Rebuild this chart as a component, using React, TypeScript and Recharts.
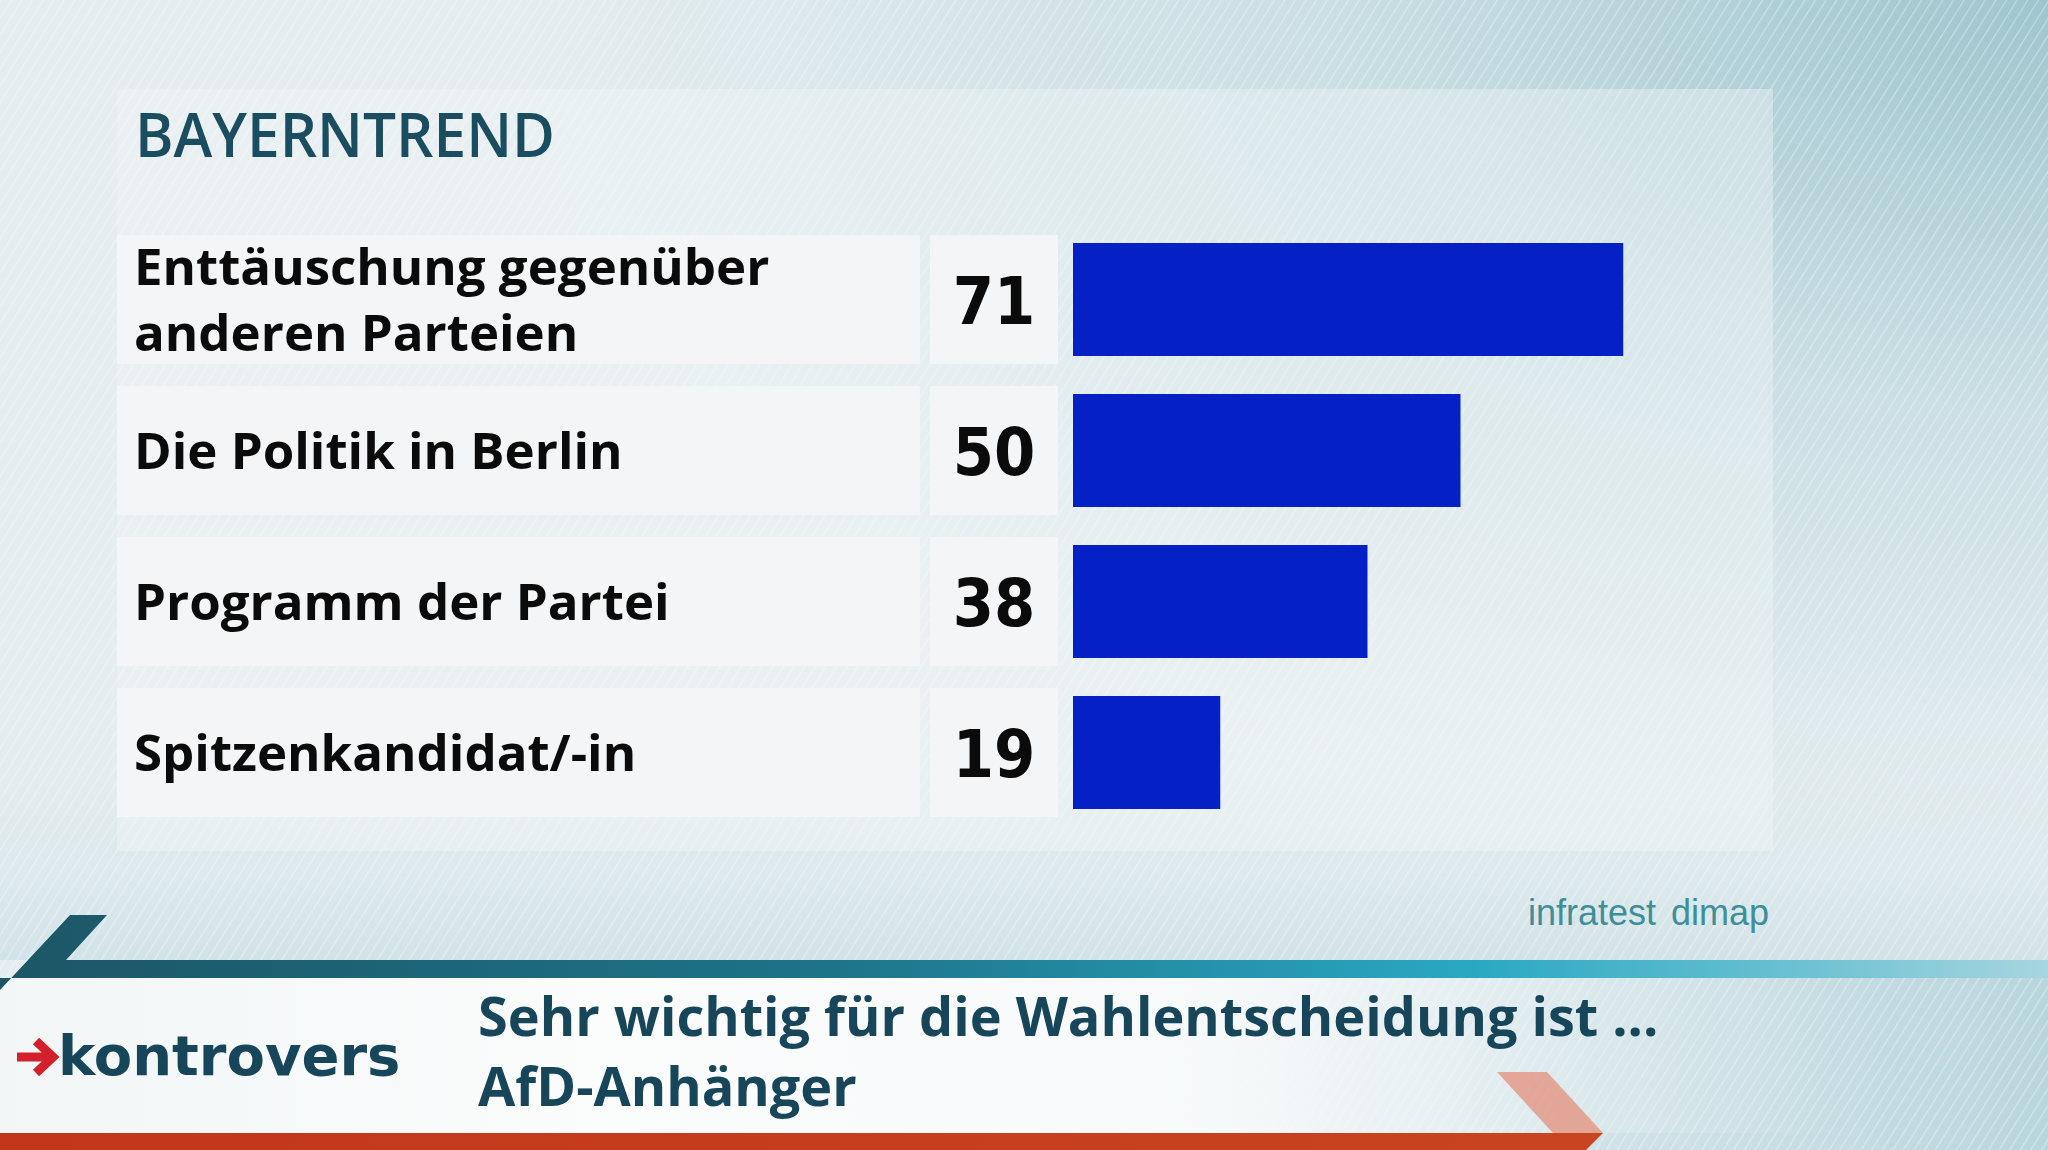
import React from 'react';
import { BarChart, Bar, XAxis, YAxis } from 'recharts';

// ---- data ----
const categories = [
  'Enttäuschung gegenüber\nanderen Parteien',
  'Die Politik in Berlin',
  'Programm der Partei',
  'Spitzenkandidat/-in',
];
const values = [71, 50, 38, 19];
const headline = 'BAYERNTREND';
const titleLines = ['Sehr wichtig für die Wahlentscheidung ist ...', 'AfD-Anhänger'];
const sourceText = 'infratest dimap';
const brandText = 'kontrovers';

const data = categories.map((category, i) => ({ category, value: values[i] }));

const W = 2048;
const H = 1150;
const BAR_COLOR = '#0521c5';
const CELL_FILL = '#f4f5f6';
const TEAL_DARK = '#17465a';

const RowTick = (props: any) => {
  const { y, payload } = props;
  const row = data.find((d) => d.category === payload.value);
  const lines = String(payload.value).split('\n');
  const cellH = 129;
  const fs = 51;
  const lh = 66;
  const base = y + 52 * 0.357 - ((lines.length - 1) * lh) / 2;
  return (
    <g>
      <rect x={117} y={y - cellH / 2} width={803} height={cellH} fill={CELL_FILL} />
      <rect x={930} y={y - cellH / 2} width={128} height={cellH} fill={CELL_FILL} />
      <text
        x={134}
        y={base}
        fontFamily="'Open Sans', sans-serif"
        fontWeight={700}
        fontSize={fs}
        fill="#0b0b0b"
      >
        {lines.map((l, i) => (
          <tspan key={i} x={134} y={base + i * lh}>
            {l}
          </tspan>
        ))}
      </text>
      <text
        transform={`translate(994, ${y + 24}) scale(0.9, 1)`}
        x={0}
        y={0}
        textAnchor="middle"
        fontFamily="'DejaVu Sans', sans-serif"
        fontWeight={700}
        fontSize={66}
        fill="#0b0b0b"
      >
        {row ? row.value : ''}
      </text>
    </g>
  );
};

const Background = () => (
  <svg width={W} height={H} style={{ position: 'absolute', left: 0, top: 0 }}>
    <defs>
      <radialGradient id="bgTop" cx="1" cy="0" r="0.75" fx="1" fy="0">
        <stop offset="0" stopColor="#9ec5ce" />
        <stop offset="0.45" stopColor="#c9dee3" />
        <stop offset="1" stopColor="#e5edf0" />
      </radialGradient>
      <linearGradient id="lowerBg" x1="0" y1="0" x2="0" y2="1">
        <stop offset="0" stopColor="#e3ecef" stopOpacity="0" />
        <stop offset="1" stopColor="#d2e3e8" stopOpacity="1" />
      </linearGradient>
      <pattern
        id="hatch"
        width="9"
        height="9"
        patternUnits="userSpaceOnUse"
        patternTransform="rotate(32)"
      >
        <line x1="0" y1="0" x2="0" y2="9" stroke="#ffffff" strokeWidth="2.5" strokeOpacity="0.35" />
      </pattern>
      <linearGradient id="band" x1="0" y1="0" x2="1" y2="0">
        <stop offset="0" stopColor="#1c5666" />
        <stop offset="0.4" stopColor="#1d7388" />
        <stop offset="0.72" stopColor="#2aa8c2" />
        <stop offset="0.88" stopColor="#6cc1d2" />
        <stop offset="1" stopColor="#a7d6e0" />
      </linearGradient>
      <linearGradient id="whiteFade" x1="0" y1="0" x2="1" y2="0">
        <stop offset="0" stopColor="#f2f6f7" stopOpacity="1" />
        <stop offset="0.3" stopColor="#fbfcfc" stopOpacity="1" />
        <stop offset="0.6" stopColor="#f8fafb" stopOpacity="0.9" />
        <stop offset="0.78" stopColor="#eef4f6" stopOpacity="0.3" />
        <stop offset="0.9" stopColor="#eef4f6" stopOpacity="0" />
      </linearGradient>
      <linearGradient id="rightLower" x1="0" y1="0" x2="1" y2="0">
        <stop offset="0.55" stopColor="#c3dce2" stopOpacity="0" />
        <stop offset="1" stopColor="#b9d6dd" stopOpacity="1" />
      </linearGradient>
      <linearGradient id="red" x1="0" y1="0" x2="1" y2="0">
        <stop offset="0" stopColor="#c2361a" />
        <stop offset="1" stopColor="#c94420" />
      </linearGradient>
    </defs>
    <rect x={0} y={0} width={W} height={H} fill="url(#bgTop)" />
    <rect x={0} y={700} width={W} height={260} fill="url(#lowerBg)" />
    <rect x={0} y={978} width={W} height={172} fill="url(#rightLower)" />
    <rect x={0} y={0} width={W} height={H} fill="url(#hatch)" />
    {/* panel */}
    <rect x={117} y={89} width={1656} height={762} fill="#f1f5f6" fillOpacity={0.42} />
    {/* bottom white area */}
    <rect x={0} y={978} width={W} height={155} fill="url(#whiteFade)" />
    {/* teal band */}
    <polygon points="70,915 107,915 66,960 2048,960 2048,978 0,978 0,990" fill="url(#band)" />
    {/* salmon chevron */}
    <polygon points="1497,1072 1547,1072 1603,1133 1553,1133" fill="#e39a88" fillOpacity={0.85} />
    {/* red band */}
    <polygon points="0,1133 1603,1133 1586,1150 0,1150" fill="url(#red)" />

    <text
      x={135}
      y={157}
      fontFamily="'Open Sans', sans-serif"
      fontWeight={600}
      fontSize={61}
      fill="#1b4d60"
      textLength={420}
      lengthAdjust="spacingAndGlyphs"
    >
      {headline}
    </text>

    <text
      x={1528}
      y={925}
      fontFamily="'Liberation Sans', Arial, sans-serif"
      fontSize={36}
      fill="#3e8f98"
      wordSpacing={5}
    >
      {sourceText}
    </text>

    {/* brand logo */}
    <path d="M17,1057 L50,1057" stroke="#d3202a" strokeWidth={9} />
    <path d="M36,1041 L53,1057 L36,1073" stroke="#d3202a" strokeWidth={9} fill="none" />
    <text
      x={58}
      y={1075}
      fontFamily="'DejaVu Sans', sans-serif"
      fontWeight={700}
      fontSize={56}
      fill={TEAL_DARK}
    >
      {brandText}
    </text>

    <text
      x={478}
      y={1036}
      fontFamily="'Open Sans', sans-serif"
      fontWeight={700}
      fontSize={54}
      fill={TEAL_DARK}
    >
      {titleLines[0]}
    </text>
    <text
      x={478}
      y={1106}
      fontFamily="'Open Sans', sans-serif"
      fontWeight={700}
      fontSize={54}
      fill={TEAL_DARK}
    >
      {titleLines[1]}
    </text>
  </svg>
);

export default function App() {
  return (
    <div
      style={{
        position: 'absolute',
        left: 0,
        top: 0,
        width: W,
        height: H,
        overflow: 'hidden',
      }}
    >
      <Background />
      <div style={{ position: 'absolute', left: 0, top: 0 }}>
        <BarChart
          width={W}
          height={H}
          data={data}
          layout="vertical"
          margin={{ top: 224, bottom: 322, left: 117, right: 200 }}
          barCategoryGap={0}
        >
          <XAxis type="number" domain={[0, 100]} hide />
          <YAxis
            type="category"
            dataKey="category"
            width={956}
            axisLine={false}
            tickLine={false}
            interval={0}
            tick={<RowTick />}
          />
          <Bar dataKey="value" fill={BAR_COLOR} barSize={113} isAnimationActive={false} />
        </BarChart>
      </div>
    </div>
  );
}
